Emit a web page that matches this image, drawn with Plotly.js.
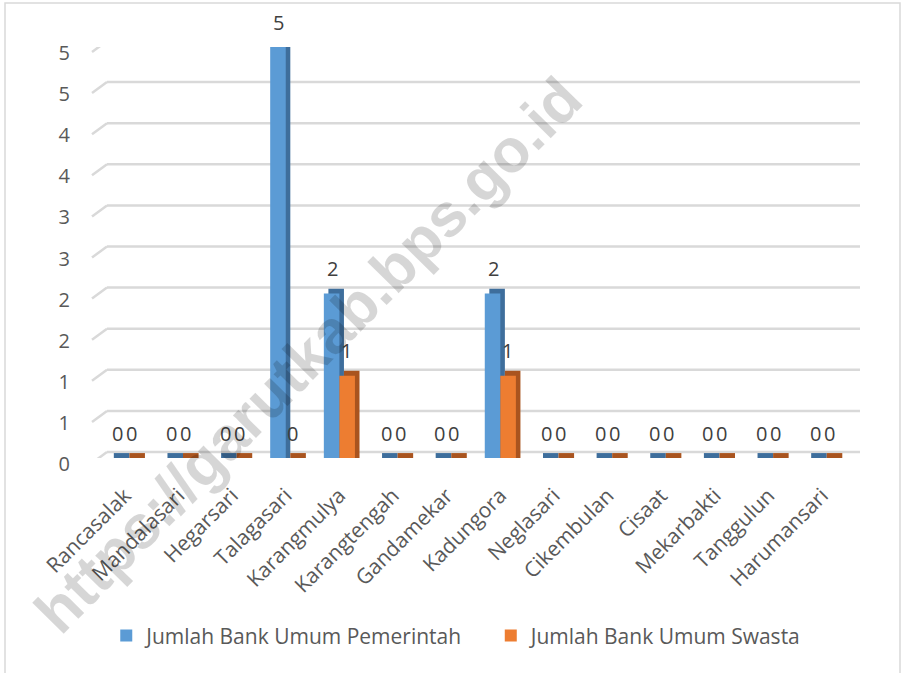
<!DOCTYPE html>
<html>
<head>
<meta charset="utf-8">
<script src="https://cdn.plot.ly/plotly-3.0.1.min.js"></script>
<style>
html,body{margin:0;padding:0;background:#fff;}
#chart{width:906px;height:673px;}
</style>
</head>
<body>
<div id="chart"></div>
<script>
var categories = ["Rancasalak","Mandalasari","Hegarsari","Talagasari","Karangmulya","Karangtengah","Gandamekar","Kadungora","Neglasari","Cikembulan","Cisaat","Mekarbakti","Tanggulun","Harumansari"];
var bankPemerintah = [0,0,0,5,2,0,0,2,0,0,0,0,0,0];
var bankSwasta = [0,0,0,0,1,0,0,1,0,0,0,0,0,0];
var seriesNames = ["Jumlah Bank Umum Pemerintah","Jumlah Bank Umum Swasta"];
var yTickVals = [0,0.5,1,1.5,2,2.5,3,3.5,4,4.5,5];
var yTickText = ["0","1","1","2","2","3","3","4","4","5","5"];
var watermarkText = "https://garutkab.bps.go.id";

var FONT = "Open Sans, sans-serif";
var TXT = "#595959";
var BW = 0.29;          // bar width in category units
var DX = 0.085;         // depth shift (category units)
var DY = 0.06;          // depth shift (value units)

function depth(vals){ return vals.map(function(v){ return v + DY; }); }

var traces = [
  {type:"bar", x:categories, y:depth(bankPemerintah), base:0, width:BW, offset:-BW+DX,
   marker:{color:"#3E6E9C"}, showlegend:false, hoverinfo:"skip"},
  {type:"bar", x:categories, y:depth(bankSwasta), base:0, width:BW, offset:DX,
   marker:{color:"#A9541F"}, showlegend:false, hoverinfo:"skip"},
  {type:"bar", name:seriesNames[0], x:categories, y:bankPemerintah, width:BW, offset:-BW,
   marker:{color:"#5B9BD5"}, legend:"legend"},
  {type:"bar", name:seriesNames[1], x:categories, y:bankSwasta, width:BW, offset:0,
   marker:{color:"#ED7D31"}, legend:"legend2"}
];

var annotations = [];
categories.forEach(function(c,i){
  annotations.push({x:c, y:bankPemerintah[i], xref:"x", yref:"y", text:String(bankPemerintah[i]),
    showarrow:false, xshift:-7, yshift:25, font:{family:FONT, size:20, color:"#404040"}});
  annotations.push({x:c, y:bankSwasta[i], xref:"x", yref:"y", text:String(bankSwasta[i]),
    showarrow:false, xshift:7, yshift:25, font:{family:FONT, size:20, color:"#404040"}});
});
annotations.push({xref:"paper", yref:"paper", x:0.28, y:0.25, xanchor:"center", yanchor:"middle",
  text:"<b>"+watermarkText+"</b>",
  showarrow:false, textangle:-45.5, font:{family:"Liberation Sans, Arial, sans-serif", size:61, color:"rgba(0,0,0,0.16)"}});

var shapes = [];
yTickVals.forEach(function(v){
  shapes.push({type:"line", xref:"paper", yref:"y", xsizemode:"pixel", ysizemode:"pixel",
    xanchor:0, yanchor:v, x0:9, x1:762, y0:6, y1:6, line:{color:"#D9D9D9", width:2.5}, layer:"below"});
  shapes.push({type:"line", xref:"paper", yref:"y", xsizemode:"pixel", ysizemode:"pixel",
    xanchor:0, yanchor:v, x0:-6, x1:9, y0:-5, y1:6, line:{color:"#D9D9D9", width:2.5}, layer:"below"});
});
shapes.push({type:"rect", xref:"paper", yref:"paper", xsizemode:"pixel", ysizemode:"pixel",
  xanchor:0, yanchor:0, x0:-93, x1:802, y0:-230, y1:455, line:{color:"#D9D9D9", width:1.5}, layer:"below"});

var legendBase = {orientation:"h", xanchor:"left", y:-0.433, yanchor:"middle",
  itemwidth:30, font:{family:FONT, size:21, color:TXT}, bgcolor:"rgba(0,0,0,0)"};

var layout = {
  width:906, height:673,
  margin:{l:98, r:57, t:47, b:215},
  paper_bgcolor:"#FFFFFF", plot_bgcolor:"rgba(0,0,0,0)",
  barmode:"overlay",
  font:{family:FONT, color:TXT, size:20},
  xaxis:{type:"category", showgrid:false, zeroline:false, showline:false,
    tickangle:-45, ticks:"outside", ticklen:16, tickcolor:"rgba(0,0,0,0)",
    tickfont:{family:FONT, size:21, color:TXT}},
  yaxis:{range:[0,5], tickvals:yTickVals, ticktext:yTickText, showgrid:false, zeroline:false,
    showline:false, ticks:"outside", ticklen:23, tickcolor:"rgba(0,0,0,0)",
    ticklabelshift:6,
    tickfont:{family:FONT, size:20, color:TXT}},
  legend:Object.assign({}, legendBase, {x:0.011}),
  legend2:Object.assign({}, legendBase, {x:0.523}),
  annotations:annotations,
  shapes:shapes,
  showlegend:true
};

Plotly.newPlot("chart", traces, layout, {displayModeBar:false, staticPlot:true});
</script>
</body>
</html>
